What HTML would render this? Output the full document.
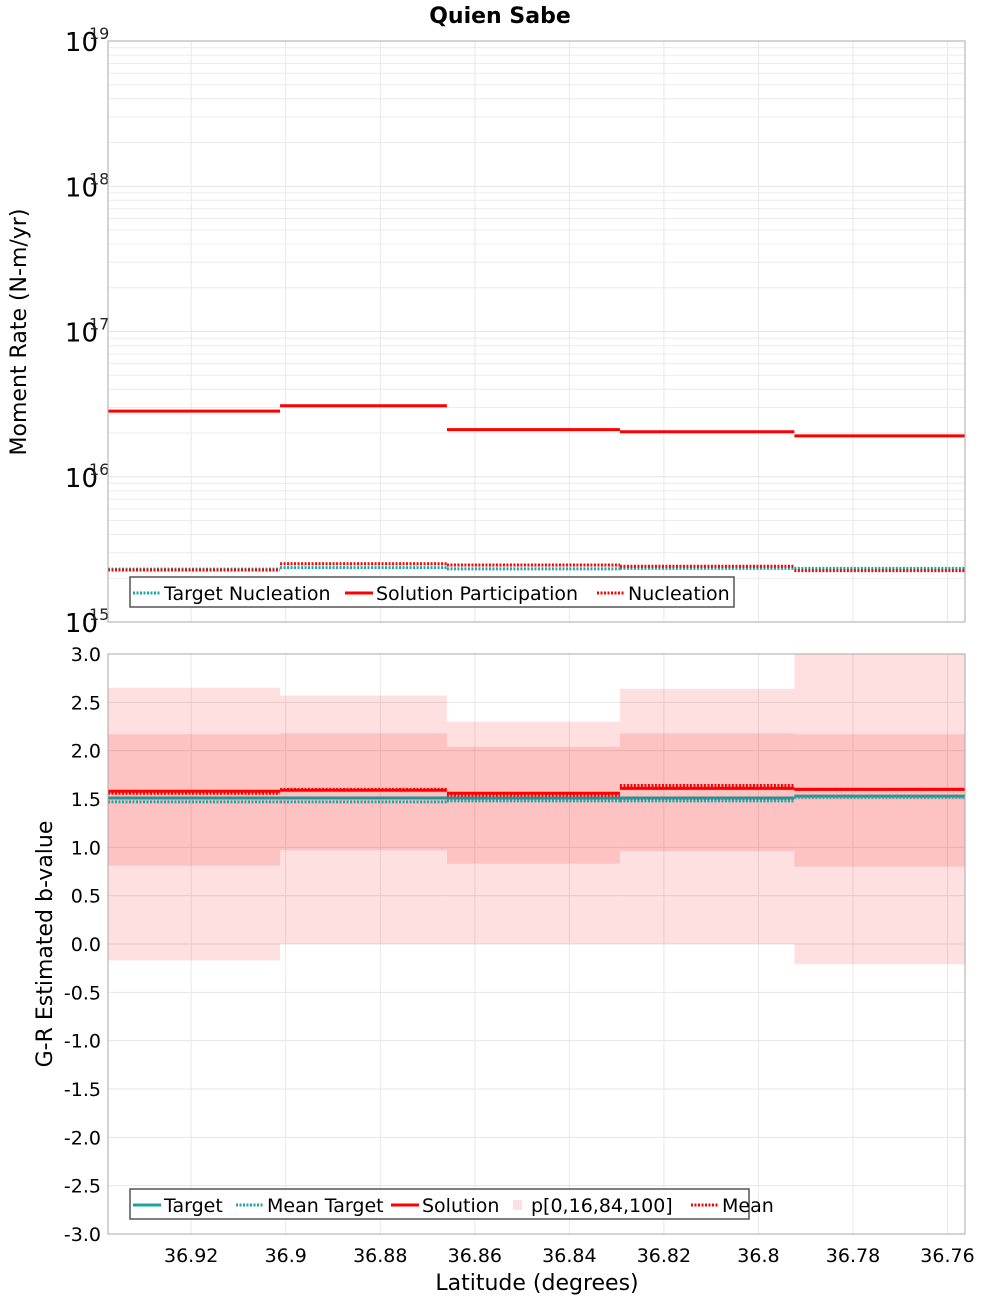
<!DOCTYPE html>
<html><head><meta charset="utf-8"><style>
body{margin:0;background:#fff;font-family:"Liberation Sans","DejaVu Sans",sans-serif}
svg text{font-family:"DejaVu Sans","Liberation Sans",sans-serif}
</style></head><body>
<svg id="chart" width="1000" height="1300" xmlns="http://www.w3.org/2000/svg">
<text x="500" y="23" text-anchor="middle" font-size="22" font-weight="bold">Quien Sabe</text>
<text transform="translate(26,332) rotate(-90)" text-anchor="middle" font-size="22">Moment Rate (N-m/yr)</text>
<text transform="translate(52,944) rotate(-90)" text-anchor="middle" font-size="22">G-R Estimated b-value</text>
<text x="537" y="1290" text-anchor="middle" font-size="22">Latitude (degrees)</text>
<g id="g"></g>
</svg>
<script>
const binEdges=[36.9376,36.9012,36.8659,36.8293,36.7924,36.7563];
const xTicks=[36.92,36.9,36.88,36.86,36.84,36.82,36.8,36.78,36.76];
const xTickLabels=["36.92","36.9","36.88","36.86","36.84","36.82","36.8","36.78","36.76"];
const topDecades=[15,16,17,18,19];
const solutionPart=[2.83e16,3.08e16,2.11e16,2.04e16,1.91e16];
const nucleation=[2.28e15,2.52e15,2.47e15,2.42e15,2.26e15];
const targetNuc=[2.31e15,2.37e15,2.32e15,2.34e15,2.34e15];
const bTicks=[3,2.5,2,1.5,1,0.5,0,-0.5,-1,-1.5,-2,-2.5,-3];
const bTickLabels=["3.0","2.5","2.0","1.5","1.0","0.5","0.0","-0.5","-1.0","-1.5","-2.0","-2.5","-3.0"];
const p0=[-0.17,0.0,0.0,0.0,-0.21];
const p16=[0.81,0.97,0.83,0.96,0.80];
const p84=[2.17,2.18,2.04,2.18,2.17];
const p100=[2.65,2.57,2.30,2.64,3.05];
const bSolution=[1.58,1.59,1.56,1.61,1.60];
const bMean=[1.56,1.60,1.54,1.64,1.60];
const bTarget=[1.51,1.51,1.51,1.51,1.53];
const bMeanTarget=[1.47,1.47,1.48,1.48,1.52];

const NS="http://www.w3.org/2000/svg";
const G=document.getElementById('g');
const L=108,R=965,T1=41,B1=622,T2=654,B2=1234;
const xMax=binEdges[0],xMin=binEdges[binEdges.length-1];
function X(v){return L+(xMax-v)/(xMax-xMin)*(R-L);}
function Y1(v){const l=Math.log10(v);return B1-(l-15)/4*(B1-T1);}
function Y2(v){return B2-(v+3)/6*(B2-T2);}
function el(tag,attrs,parent){const e=document.createElementNS(NS,tag);for(const k in attrs)e.setAttribute(k,attrs[k]);(parent||G).appendChild(e);return e;}
const TEAL="#1aa7a7";
// clip paths
const defs=el('defs',{});
const c1=el('clipPath',{id:'c1'},defs);el('rect',{x:L,y:T1,width:R-L,height:B1-T1},c1);
const c2=el('clipPath',{id:'c2'},defs);el('rect',{x:L,y:T2,width:R-L,height:B2-T2},c2);

// top grid
for(let d=15;d<19;d++){for(let m=2;m<=9;m++){const y=Y1(m*Math.pow(10,d));
const g=el('line',{x1:L,x2:R,y1:y,y2:y,stroke:'#ececec','stroke-width':1});
}}
topDecades.forEach(d=>{const y=Y1(Math.pow(10,d));
const g=el('line',{x1:L,x2:R,y1:y,y2:y,stroke:'#e4e4e4'});

const t=el('text',{x:98,y:y+10,'text-anchor':'end','font-size':26});t.textContent='10';

const s=el('text',{x:89,y:y-2,'font-size':16,fill:'#222'});s.textContent=String(d);
});
// bottom grid
bTicks.forEach((v,i)=>{const y=Y2(v);
const g=el('line',{x1:L,x2:R,y1:y,y2:y,stroke:'#e6e6e6'});

const t=el('text',{x:101,y:y+7,'text-anchor':'end','font-size':19});t.textContent=bTickLabels[i];
});
xTicks.forEach((v,i)=>{const x=X(v);
[[T1,B1],[T2,B2]].forEach(([a,b])=>{const g=el('line',{x1:x,x2:x,y1:a,y2:b,stroke:'#e8e8e8'});
});
const t=el('text',{x:x,y:1262,'text-anchor':'middle','font-size':19});t.textContent=xTickLabels[i];
});

// bands
const bandG=el('g',{'clip-path':'url(#c2)'});
for(let i=0;i<5;i++){const x1=X(binEdges[i]),x2=X(binEdges[i+1]);
const o=el('rect',{x:x1,y:Y2(p100[i]),width:x2-x1,height:Y2(p0[i])-Y2(p100[i]),fill:'rgba(250,0,0,0.12)'},bandG);

const n=el('rect',{x:x1,y:Y2(p84[i]),width:x2-x1,height:Y2(p16[i])-Y2(p84[i]),fill:'rgba(250,0,0,0.13)'},bandG);
}

function steps(arr,Yf,color,dash,w,name,clip){const g=el('g',{'clip-path':clip});
for(let i=0;i<arr.length;i++){const y=Yf(arr[i]);
const a={x1:X(binEdges[i]),x2:X(binEdges[i+1]),y1:y,y2:y,stroke:color,'stroke-width':w};
if(dash)a['stroke-dasharray']=dash;const ln=el('line',a,g);
}}
steps(targetNuc,Y1,TEAL,'2,1.5',3,'target-nucleation-line','url(#c1)');
steps(solutionPart,Y1,'#ff0000',null,3,'solution-participation-line','url(#c1)');
steps(nucleation,Y1,'#ff0000','2,1.5',3,'nucleation-line','url(#c1)');
steps(bTarget,Y2,'#2a9090',null,3,'target-b-line','url(#c2)');
steps(bMeanTarget,Y2,TEAL,'2,1.5',3,'mean-target-b-line','url(#c2)');
steps(bSolution,Y2,'#ff0000',null,3,'solution-b-line','url(#c2)');
steps(bMean,Y2,'#ff0000','2,1.5',3,'mean-b-line','url(#c2)');

// frames
[[T1,B1],[T2,B2]].forEach(([a,b])=>{const r=el('rect',{x:L,y:a,width:R-L,height:b-a,fill:'none',stroke:'#aaa'});
});

// legends
function legend(x,y,w,items,name){const g=el('g',{});
el('rect',{x:x,y:y,width:w,height:30,fill:'#fff',stroke:'#555','stroke-width':1.5},g);
let cx=x+3;items.forEach(it=>{const yy=y+16;
if(it.box){el('rect',{x:cx+7,y:yy-5,width:9,height:10,fill:'#fde0e0'},g);}
else{const a={x1:cx,x2:cx+28,y1:yy,y2:yy,stroke:it.c,'stroke-width':3};if(it.d)a['stroke-dasharray']='2,1.5';el('line',a,g);}
const t=el('text',{x:cx+(it.box?25:31),y:yy+7,'font-size':19},g);t.textContent=it.t;

cx+= (it.box?25:31)+it.w;});}
legend(130,577,604,[{c:TEAL,d:1,t:'Target Nucleation',w:181},{c:'#ff0000',t:'Solution Participation',w:221},{c:'#ff0000',d:1,t:'Nucleation',w:110}],'top-legend');
legend(130,1189,619,[{c:'#1aa79a',t:'Target',w:72},{c:TEAL,d:1,t:'Mean Target',w:124},{c:'#ff0000',t:'Solution',w:84},{box:1,t:'p[0,16,84,100]',w:160},{c:'#ff0000',d:1,t:'Mean',w:60}],'bottom-legend');
</script>
</body></html>
